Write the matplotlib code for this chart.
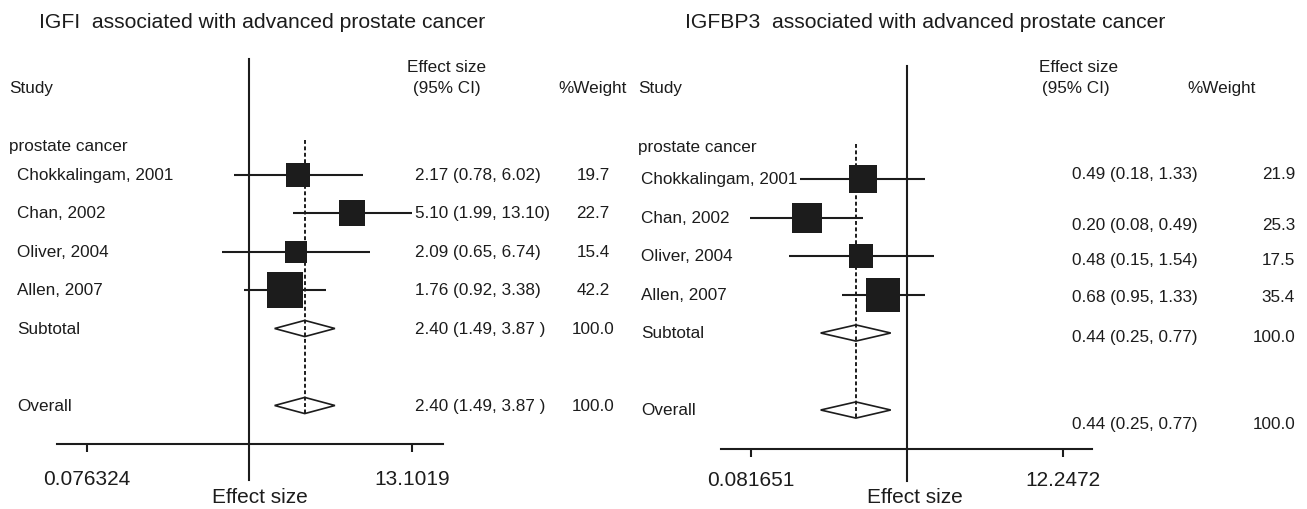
import matplotlib
matplotlib.use('Agg')
import matplotlib.pyplot as plt
import matplotlib.transforms as mtrans
from matplotlib.ticker import NullLocator
import numpy as np

plt.rcParams['font.family'] = ['Liberation Sans', 'DejaVu Sans']

W, H = 1307, 510
INK = '#1c1c1c'

studies = ['Chokkalingam, 2001', 'Chan, 2002', 'Oliver, 2004', 'Allen, 2007']
pooled = ['Subtotal', 'Overall']

# IGF-I panel
igf_es = [2.17, 5.10, 2.09, 1.76]
igf_lo = [0.78, 1.99, 0.65, 0.92]
igf_hi = [6.02, 13.10, 6.74, 3.38]
igf_w = [19.7, 22.7, 15.4, 42.2]
igf_pool = [2.40, 1.49, 3.87]
igf_txt = ['2.17 (0.78, 6.02)', '5.10 (1.99, 13.10)', '2.09 (0.65, 6.74)',
           '1.76 (0.92, 3.38)', '2.40 (1.49, 3.87 )', '2.40 (1.49, 3.87 )']
igf_wtxt = ['19.7', '22.7', '15.4', '42.2', '100.0', '100.0']
igf_ticks = [0.076324, 13.1019]
igf_ticklabels = ['0.076324', '13.1019']

# IGFBP-3 panel (Allen lower limit as drawn in the figure)
bp_es = [0.49, 0.20, 0.48, 0.68]
bp_lo = [0.18, 0.08, 0.15, 0.35]
bp_hi = [1.33, 0.49, 1.54, 1.33]
bp_w = [21.9, 25.3, 17.5, 35.4]
bp_pool = [0.44, 0.25, 0.77]
bp_txt = ['0.49 (0.18, 1.33)', '0.20 (0.08, 0.49)', '0.48 (0.15, 1.54)',
          '0.68 (0.95, 1.33)', '0.44 (0.25, 0.77)', '0.44 (0.25, 0.77)']
bp_wtxt = ['21.9', '25.3', '17.5', '35.4', '100.0', '100.0']
bp_ticks = [0.081651, 12.2472]
bp_ticklabels = ['0.081651', '12.2472']

fig = plt.figure(figsize=(W / 100, H / 100), dpi=100)
fig.patch.set_facecolor('white')


def fx(x):
    return x / W


def fy(y):
    return 1 - y / H


def panel(left, right, top, bottom, xlim, es, lo, hi, w, pool, ticks, ticklabels,
          k, null_top, null_bot, pad, xlab_x):
    ax = fig.add_axes([fx(left), fy(bottom), fx(right - left), (bottom - top) / H])
    rows = np.arange(1, len(es) + 1)
    ax.hlines(rows, lo, hi, color=INK, lw=1.5, zorder=2)
    for x, y, ww in zip(es, rows, w):
        ax.plot(x, y, marker='s', ms=k * np.sqrt(ww), color=INK, mew=0, zorder=3)
    for r in (5, 7):
        ax.fill([pool[1], pool[0], pool[2], pool[0]], [r, r - 0.21, r, r + 0.21],
                facecolor='white', edgecolor=INK, lw=1.2, zorder=3)
    ax.vlines(pool[0], 0.1, 7.2, color=INK, lw=1.4, linestyles=(0, (2, 1.3)), zorder=4)
    ax.axvline(1, ymin=null_bot, ymax=null_top, color=INK, lw=1.5, clip_on=False, zorder=2)
    ax.set_xscale('log')
    ax.set_xlim(*xlim)
    ax.set_ylim(8, -2)
    ax.set_xticks(ticks)
    ax.set_xticklabels(ticklabels)
    ax.xaxis.set_minor_locator(NullLocator())
    ax.set_yticks([])
    ax.tick_params(axis='x', direction='out', length=5.8, width=1.5, color=INK,
                   labelsize=15, labelcolor=INK, pad=pad)
    for s in ('top', 'left', 'right'):
        ax.spines[s].set_visible(False)
    ax.spines['bottom'].set_color(INK)
    ax.spines['bottom'].set_linewidth(1.5)
    ax.set_facecolor('none')
    fig.text(fx(xlab_x), fy(498), 'Effect size', ha='center', va='center',
             fontsize=15, color=INK)
    return ax


ax1 = panel(57, 443, 60, 445, (0.0476, 21.4), igf_es, igf_lo, igf_hi, igf_w, igf_pool,
            igf_ticks, igf_ticklabels, 3.9, 1.0, -0.0935, 12, 260)
ax2 = panel(721, 1092, 64.5, 449.5, (0.0505, 19.47), bp_es, bp_lo, bp_hi, bp_w, bp_pool,
            bp_ticks, bp_ticklabels, 4.2, 0.9935, -0.084, 9.5, 915)

# titles
fig.text(fx(39), fy(22), 'IGFI  associated with advanced prostate cancer',
         fontsize=15.2, color=INK, ha='left', va='center')
fig.text(fx(685), fy(22), 'IGFBP3  associated with advanced prostate cancer',
         fontsize=15.2, color=INK, ha='left', va='center')

fs = 12.3
lab_rows = [1, 2, 3, 4, 5, 7]
labels = studies + pooled

# left panel text columns
tr1 = mtrans.blended_transform_factory(fig.transFigure, ax1.transData)
fig.text(fx(9), fy(89), 'Study', fontsize=fs, color=INK, va='center')
fig.text(fx(407), fy(67), 'Effect size', fontsize=fs, color=INK, va='center')
fig.text(fx(413), fy(89), '(95% CI)', fontsize=fs, color=INK, va='center')
fig.text(fx(558), fy(89), '%Weight', fontsize=fs, color=INK, va='center')
ax1.text(fx(9), 0.25, 'prostate cancer', transform=tr1, fontsize=fs, color=INK, va='center')
for r, lab, t, wt in zip(lab_rows, labels, igf_txt, igf_wtxt):
    ax1.text(fx(17), r, lab, transform=tr1, fontsize=fs, color=INK, va='center')
    ax1.text(fx(415), r, t, transform=tr1, fontsize=fs, color=INK, va='center')
    ax1.text(fx(593), r, wt, transform=tr1, fontsize=fs, color=INK, va='center', ha='center')

# right panel text columns
tr2 = mtrans.blended_transform_factory(fig.transFigure, ax2.transData)
fig.text(fx(638), fy(89), 'Study', fontsize=fs, color=INK, va='center')
fig.text(fx(1039), fy(67), 'Effect size', fontsize=fs, color=INK, va='center')
fig.text(fx(1042), fy(88), '(95% CI)', fontsize=fs, color=INK, va='center')
fig.text(fx(1187), fy(88), '%Weight', fontsize=fs, color=INK, va='center')
ax2.text(fx(638), 0.15, 'prostate cancer', transform=tr2, fontsize=fs, color=INK, va='center')
rt_rows = [0.87, 2.17, 3.08, 4.04, 5.08, 7.34]
for r, rr, lab, t, wt in zip(lab_rows, rt_rows, labels, bp_txt, bp_wtxt):
    ax2.text(fx(641), r, lab, transform=tr2, fontsize=fs, color=INK, va='center')
    ax2.text(fx(1072), rr, t, transform=tr2, fontsize=fs, color=INK, va='center')
    ax2.text(fx(1295), rr, wt, transform=tr2, fontsize=fs, color=INK, va='center', ha='right')

fig.savefig('out.png', dpi=100, facecolor='white')
